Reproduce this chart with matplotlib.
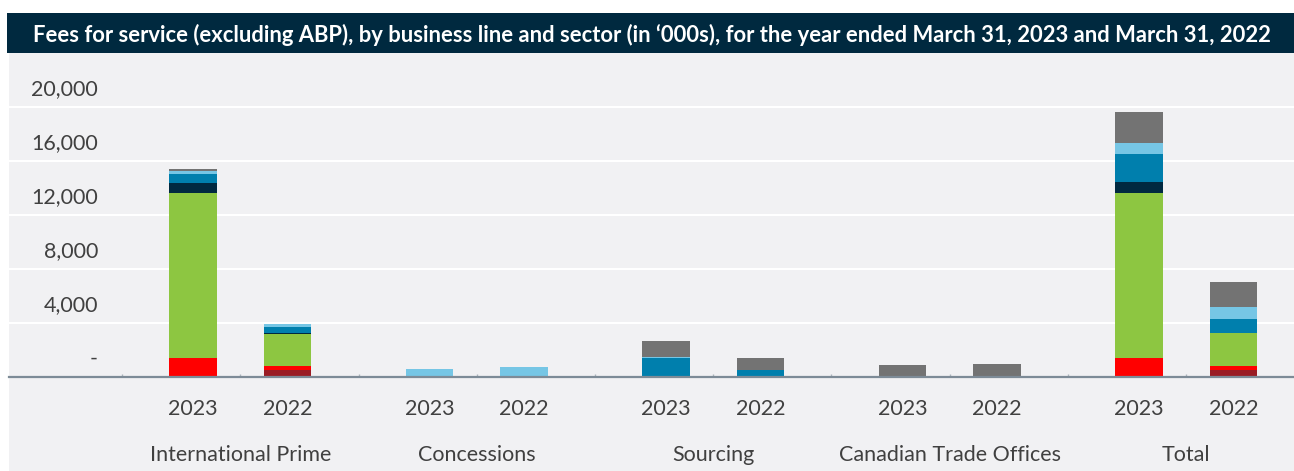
import numpy as np
import matplotlib.pyplot as plt
from matplotlib.patches import Rectangle
from matplotlib.transforms import ScaledTranslation

plt.rcParams['font.family'] = ['Lato', 'DejaVu Sans']

title = "Fees for service (excluding ABP), by business line and sector (in \u2018000s), for the year ended March 31, 2023 and March 31, 2022"
groups = ['International Prime', 'Concessions', 'Sourcing', 'Canadian Trade Offices', 'Total']
years = ['2023', '2022']

# one value per bar: IP 23, IP 22, Conc 23, Conc 22, Src 23, Src 22, CTO 23, CTO 22, Tot 23, Tot 22
dark_red   = [0,     500,  0,   0,   0,    0,   0,   0,   0,     520]
red        = [1420,  300,  0,   0,   0,    0,   0,   0,   1420,  300]
green      = [12200, 2400, 0,   0,   0,    0,   0,   0,   12200, 2440]
navy       = [780,   75,   0,   0,   0,    0,   0,   0,   800,   30]
blue       = [670,   440,  0,   0,   1400, 500, 0,   0,   2070,  1000]
light_blue = [200,   200,  570, 720, 50,   0,   0,   0,   815,   900]
grey       = [170,   0,    0,   0,   1200, 890, 870, 940, 2300,  1850]

series = [dark_red, red, green, navy, blue, light_blue, grey]
colors = ['#9a1c24', '#ff0000', '#8dc641', '#002940', '#007fad', '#76c6e5', '#737373']

yticks = [0, 4000, 8000, 12000, 16000, 20000]
ytick_labels = ['-', '4,000', '8,000', '12,000', '16,000', '20,000']

W, H = 1294, 471
fig = plt.figure(figsize=(W / 100, H / 100), dpi=100)
fig.patch.set_facecolor('white')

# background panel and title band
fig.patches.append(Rectangle((9 / W, 0), 1 - 9 / W, 1 - 53 / H, transform=fig.transFigure,
                             facecolor='#f1f1f3', edgecolor='none', zorder=-10))
fig.patches.append(Rectangle((7 / W, 1 - 53 / H), 1 - 7 / W, 40 / H, transform=fig.transFigure,
                             facecolor='#00293f', edgecolor='none', zorder=-10))
fig.text(652 / W, 1 - 35 / H, title, color='white', fontsize=15.8, fontweight='bold',
         ha='center', va='center')

ax = fig.add_axes([9 / W, 1 - 377 / H, 1 - 9 / W, (377 - 53) / H])
ax.set_facecolor('none')

x = np.array([5 * g + 2 * j for g in range(len(groups)) for j in range(len(years))], dtype=float)
bottom = np.zeros(len(x))
for vals, c in zip(series, colors):
    vals = np.array(vals, dtype=float)
    ax.bar(x, vals, width=1.0, bottom=bottom, color=c, edgecolor='none', zorder=3)
    bottom += vals

ax.set_xlim(-3.89, 23.28)
ax.set_ylim(0, 24000)

for s in ['top', 'right', 'left']:
    ax.spines[s].set_visible(False)
ax.spines['bottom'].set_color('#7d8b97')
ax.spines['bottom'].set_linewidth(1.6)
ax.spines['bottom'].set_zorder(4)

ax.set_yticks(yticks)
ax.set_yticklabels(ytick_labels)
ax.yaxis.grid(True, color='white', linewidth=1.5, zorder=1)
ax.tick_params(axis='y', length=0, pad=-64, labelsize=15.5, labelcolor='#404040')
shift = ScaledTranslation(0, 20 / 100, fig.dpi_scale_trans)
for lab in ax.get_yticklabels():
    lab.set_transform(lab.get_transform() + shift)

ax.set_xticks(x)
ax.set_xticklabels(years * len(groups))
ax.tick_params(axis='x', length=0, pad=15.5, labelsize=15.5, labelcolor='#404040')
ax.set_xticks(np.arange(-1.5, 23, 2.5), minor=True)
ax.tick_params(axis='x', which='minor', length=2, direction='in', color='#aab3bb', width=1)

for g, name in enumerate(groups):
    ax.text(5 * g + 1, -78 / 324, name, transform=ax.get_xaxis_transform(),
            ha='center', va='center', fontsize=15.5, color='#404040')

fig.savefig('out.png', dpi=100, facecolor=fig.get_facecolor())
